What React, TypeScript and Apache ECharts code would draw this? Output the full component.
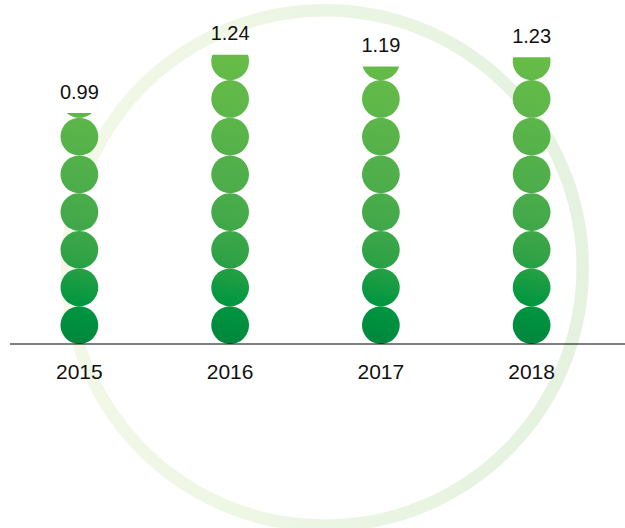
import React, { useEffect, useRef } from "react";
import * as echarts from "echarts";

const categories = ["2015", "2016", "2017", "2018"];
const values = [0.99, 1.24, 1.19, 1.23];
const yMax = 1.4;
const gradMax = 1.24;

const DOT = 37.7;
const FONT = "'Liberation Sans', Arial, Helvetica, sans-serif";

export default function App() {
  const ref = useRef<HTMLDivElement>(null);
  useEffect(() => {
    document.body.style.margin = "0";
    const chart = echarts.init(ref.current!, null, { renderer: "svg" });
    const renderItem = (params: any, api: any) => {
      const i = api.value(0);
      const v = api.value(1);
      const base = api.coord([i, 0]);
      const top = api.coord([i, v]);
      const gTop = api.coord([i, gradMax]);
      const r = DOT / 2;
      const h = base[1] - top[1];
      const n = Math.ceil(h / DOT);
      const fill = {
        type: "linear",
        global: true,
        x: base[0] - 30,
        y: base[1],
        x2: base[0] + 30,
        y2: gTop[1],
        colorStops: [
          { offset: 0, color: "#00853c" },
          { offset: 0.15, color: "#009640" },
          { offset: 0.3, color: "#2fa246" },
          { offset: 0.45, color: "#46aa4a" },
          { offset: 0.62, color: "#52b04a" },
          { offset: 0.8, color: "#5eb749" },
          { offset: 1, color: "#69bd47" },
        ],
      };
      const circles = [];
      for (let k = 0; k < n; k++) {
        circles.push({
          type: "circle",
          shape: { cx: base[0], cy: base[1] - DOT * k - r, r },
          style: { fill },
        });
      }
      return {
        type: "group",
        children: [
          {
            type: "group",
            clipPath: {
              type: "rect",
              shape: { x: base[0] - r - 2, y: top[1], width: DOT + 4, height: h },
            },
            children: circles,
          },
          {
            type: "text",
            style: {
              text: v.toFixed(2),
              x: base[0],
              y: top[1] - 21.5,
              align: "center",
              verticalAlign: "middle",
              fill: "#111111",
              fontSize: 20,
              fontFamily: FONT,
            },
          },
        ],
      };
    };
    chart.setOption({
      animation: false,
      backgroundColor: "#ffffff",
      grid: { left: 4, right: 18, top: 17.5, bottom: 184 },
      xAxis: {
        type: "category",
        data: categories,
        axisLine: { show: false },
        axisTick: { show: false },
        axisLabel: { fontSize: 21, color: "#111111", fontFamily: FONT, margin: 17 },
      },
      yAxis: { type: "value", min: 0, max: yMax, show: false, splitLine: { show: false } },
      graphic: [
        {
          type: "ring",
          z: -10,
          shape: { cx: 325, cy: 268, r: 264, r0: 251.5 },
          style: {
            fill: {
              type: "linear",
              x: 0,
              y: 0,
              x2: 1,
              y2: 0,
              colorStops: [
                { offset: 0, color: "#f3f8e7" },
                { offset: 1, color: "#e4f2df" },
              ],
            },
          },
        },
        {
          type: "line",
          z: 10,
          shape: { x1: 10, y1: 344, x2: 625, y2: 344 },
          style: { stroke: "#000000", lineWidth: 1.2 },
        },
      ],
      series: [
        {
          type: "custom",
          renderItem,
          encode: { x: 0, y: 1 },
          data: values.map((v, i) => [i, v]),
          z: 2,
        },
      ],
    });
    return () => chart.dispose();
  }, []);
  return <div ref={ref} style={{ width: 625, height: 528 }} />;
}
